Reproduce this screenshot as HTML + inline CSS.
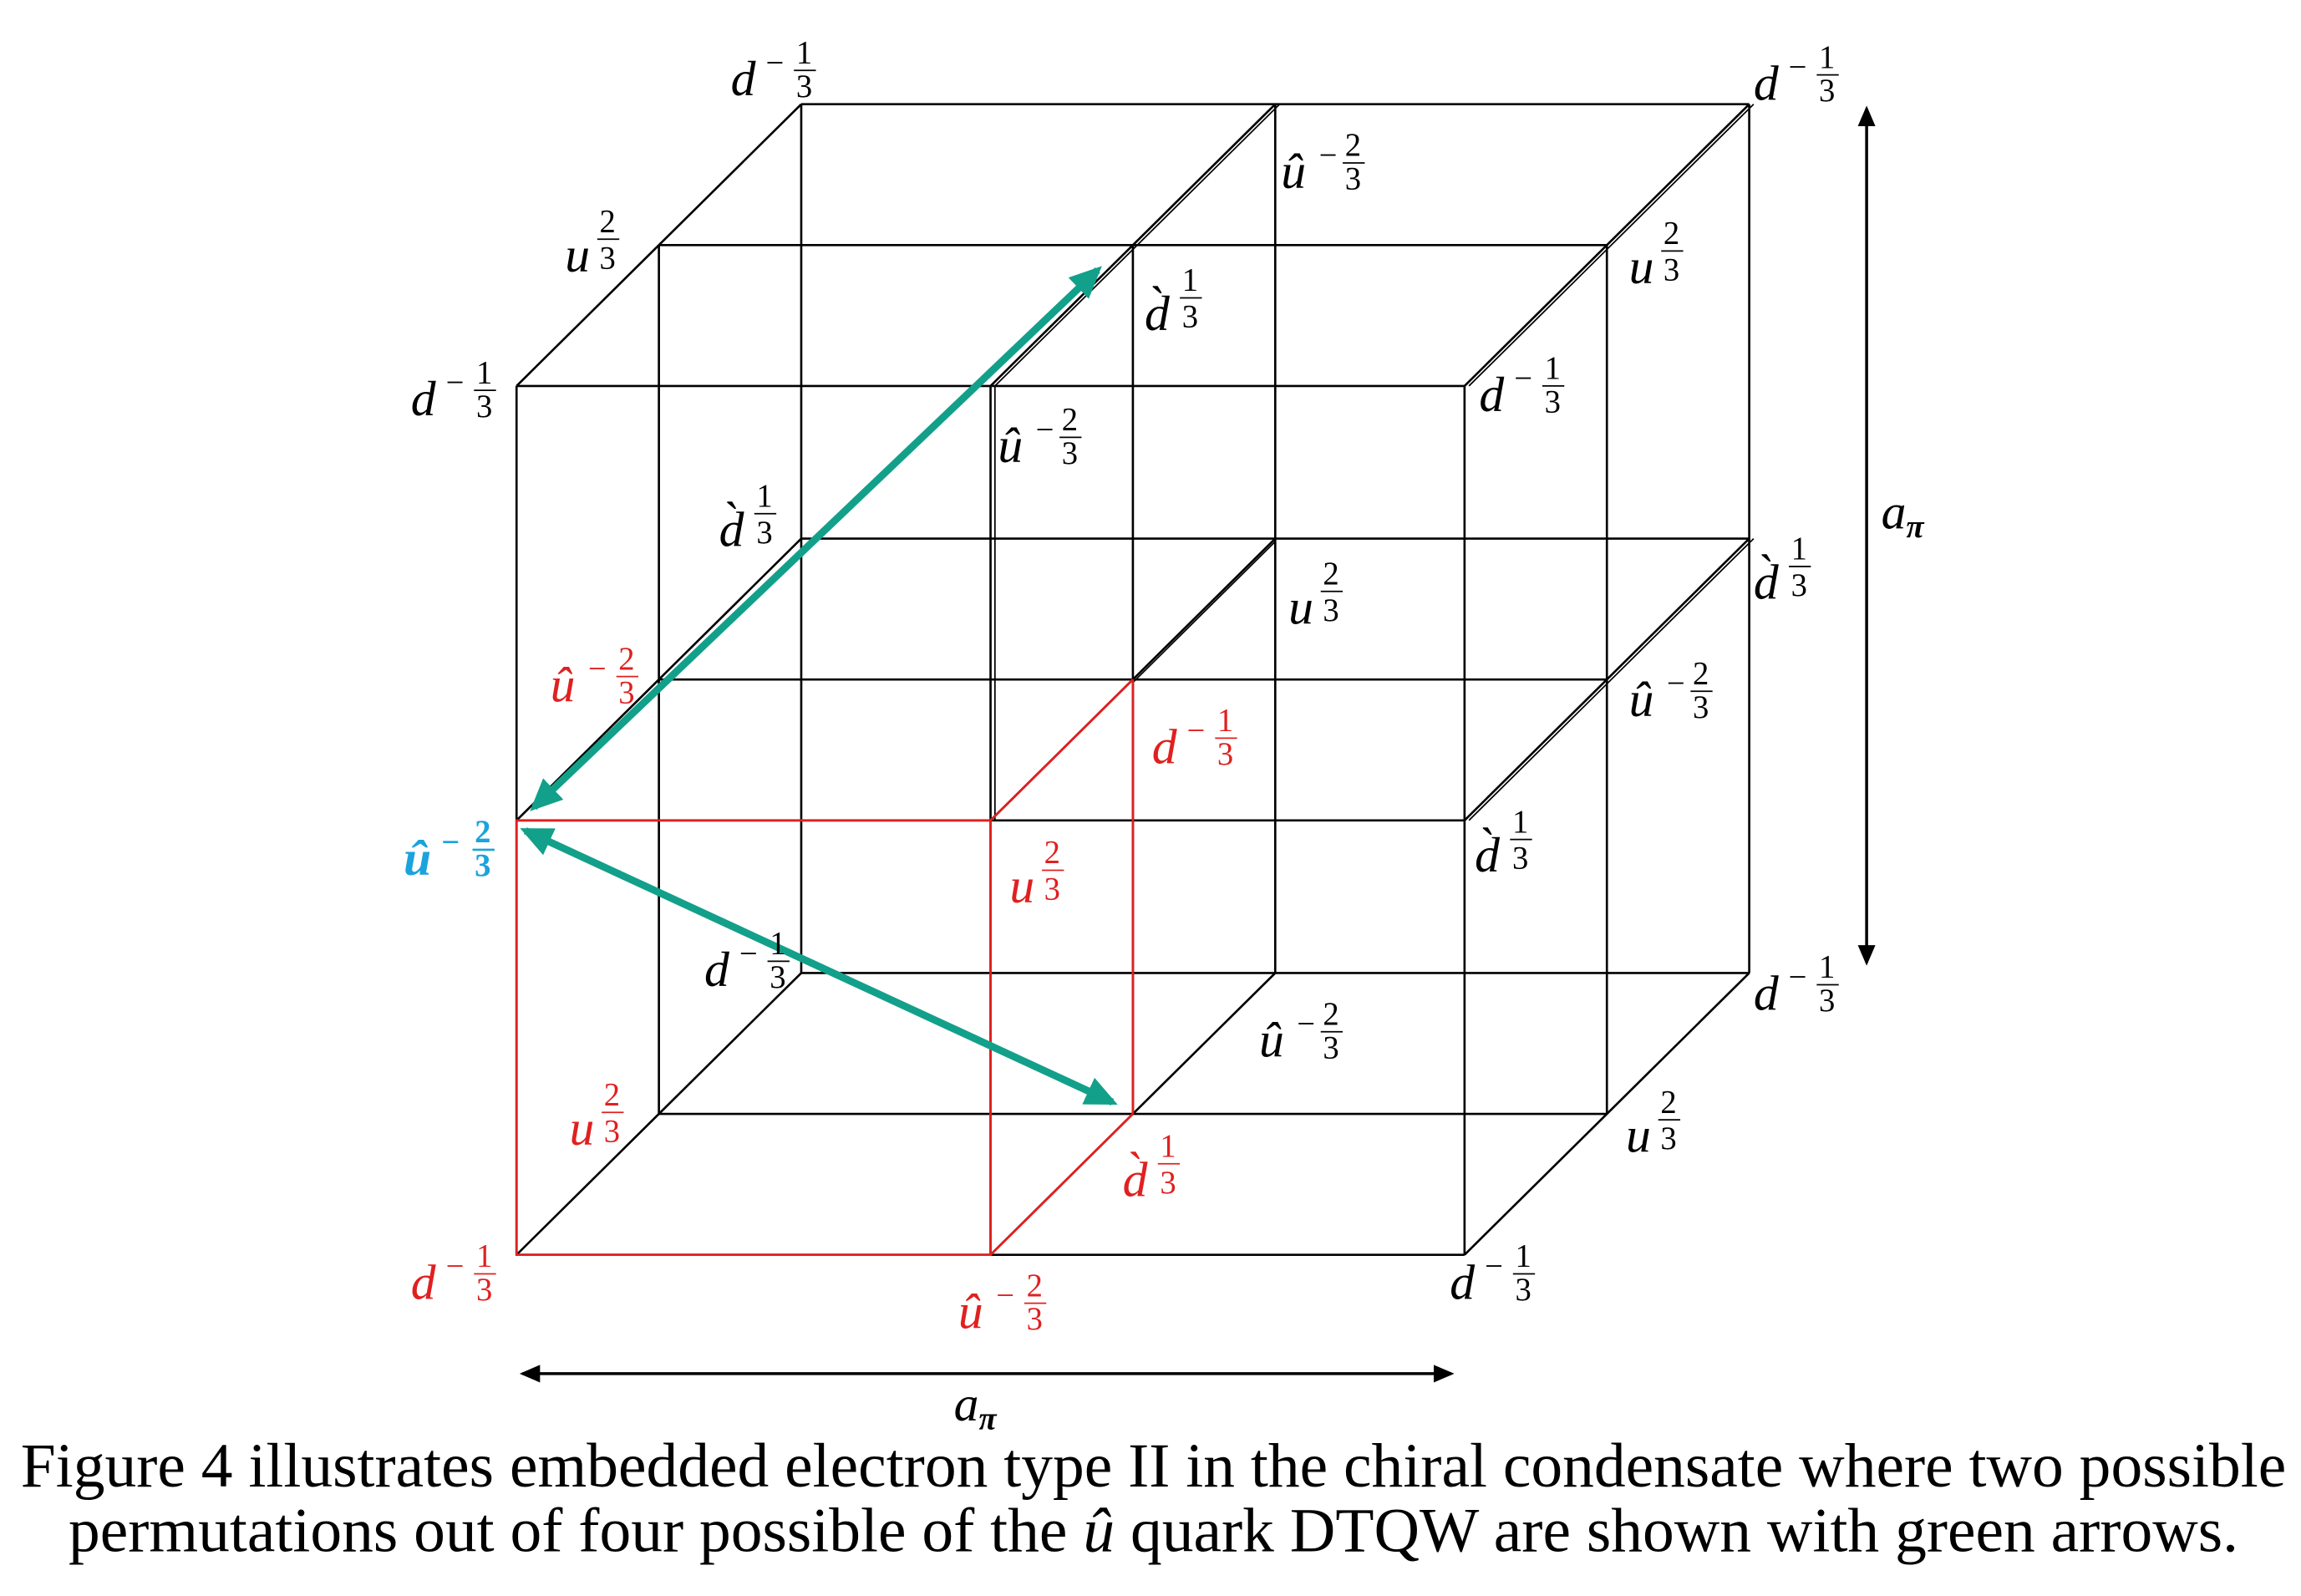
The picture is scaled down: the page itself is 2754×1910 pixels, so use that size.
<!DOCTYPE html>
<html><head><meta charset="utf-8"><style>
html,body{margin:0;padding:0;background:#fff;}
svg{display:block;}
.l{font-family:"Liberation Serif",serif;font-style:italic;font-size:34px;}
.f{font-family:"Liberation Serif",serif;font-size:22px;text-anchor:middle;}
.cap{font-family:"Liberation Serif",serif;font-size:43px;text-anchor:middle;}
</style></head><body>
<svg width="2754" height="1910" viewBox="0 0 1568 1087.5" preserveAspectRatio="none" xmlns="http://www.w3.org/2000/svg">
<defs>
<marker id="ag" markerWidth="4.4" markerHeight="4" refX="3.6" refY="2" orient="auto-start-reverse" markerUnits="strokeWidth"><path d="M0,0 L4.4,2 L0,4 z" fill="#13a08a"/></marker>
<marker id="ak" markerWidth="7" markerHeight="6" refX="6" refY="3" orient="auto-start-reverse" markerUnits="strokeWidth"><path d="M0,0 L7,3 L0,6 z" fill="#000"/></marker>
</defs>
<g stroke="#000" stroke-width="1.5" fill="none">
<path d="M352,263H998M352,559H998M352,855H998M352,263V855M675,263V855M998,263V855"/>
<path d="M449,167H1095M449,463H1095M449,759H1095M449,167V759M772,167V759M1095,167V759"/>
<path d="M546,71H1192M546,367H1192M546,663H1192M546,71V663M869,71V663M1192,71V663"/>
<path d="M352,263L546,71M675,263L869,71M998,263L1192,71
M352,559L546,367M675,559L869,367M998,559L1192,367
M352,855L546,663M675,855L772,759M772,759L869,663M998,855L1192,663
M675,559L772,463M772,463L869,367"/>
<path d="M678,263L872,71M678,263V559M1001,263L1195,71M1001,559L1195,367M772,465L869,369" stroke-width="1"/>
</g>
<g stroke="#e02020" stroke-width="1.6" fill="none">
<path d="M352,559H675V855H352Z"/>
<path d="M675,855L772,759M675,559L772,463M772,463V759"/>
</g>
<g stroke="#13a08a" stroke-width="5" fill="none">
<line x1="748" y1="184" x2="364" y2="550" marker-start="url(#ag)" marker-end="url(#ag)"/>
<line x1="358" y1="566" x2="758" y2="751" marker-start="url(#ag)" marker-end="url(#ag)"/>
</g>
<g stroke="#000" stroke-width="2">
<line x1="1272" y1="74" x2="1272" y2="656" marker-start="url(#ak)" marker-end="url(#ak)"/>
<line x1="356" y1="936" x2="989" y2="936" marker-start="url(#ak)" marker-end="url(#ak)"/>
</g>
<text class="l" x="1282" y="360">a<tspan font-size="22" dy="6" font-weight="bold">π</tspan></text>
<text class="l" x="650" y="968">a<tspan font-size="22" dy="6" font-weight="bold">π</tspan></text>

<g fill="#000">
<text class="l" x="498" y="65">d</text><text class="f" x="528" y="50">−</text><text class="f" x="548" y="43">1</text><text class="f" x="548" y="66">3</text><line x1="541" y1="48" x2="556" y2="48" stroke="#000"/>
<text class="l" x="1195" y="68">d</text><text class="f" x="1225" y="53">−</text><text class="f" x="1245" y="46">1</text><text class="f" x="1245" y="69">3</text><line x1="1238" y1="51" x2="1253" y2="51" stroke="#000"/>
<text class="l" x="873" y="128">û</text><text class="f" x="905" y="113">−</text><text class="f" x="922" y="106">2</text><text class="f" x="922" y="129">3</text><line x1="915" y1="111" x2="930" y2="111" stroke="#000"/>
<text class="l" x="385" y="185">u</text><text class="f" x="414" y="158">2</text><text class="f" x="414" y="183">3</text><line x1="407" y1="163" x2="422" y2="163" stroke="#000"/>
<text class="l" x="1110" y="193">u</text><text class="f" x="1139" y="166">2</text><text class="f" x="1139" y="191">3</text><line x1="1132" y1="171" x2="1147" y2="171" stroke="#000"/>
<text class="l" x="780" y="225">d̀</text><text class="f" x="811" y="198">1</text><text class="f" x="811" y="223">3</text><line x1="804" y1="203" x2="819" y2="203" stroke="#000"/>
<text class="l" x="280" y="283">d</text><text class="f" x="310" y="268">−</text><text class="f" x="330" y="261">1</text><text class="f" x="330" y="284">3</text><line x1="323" y1="266" x2="338" y2="266" stroke="#000"/>
<text class="l" x="1008" y="280">d</text><text class="f" x="1038" y="265">−</text><text class="f" x="1058" y="258">1</text><text class="f" x="1058" y="281">3</text><line x1="1051" y1="263" x2="1066" y2="263" stroke="#000"/>
<text class="l" x="680" y="315">û</text><text class="f" x="712" y="300">−</text><text class="f" x="729" y="293">2</text><text class="f" x="729" y="316">3</text><line x1="722" y1="298" x2="737" y2="298" stroke="#000"/>
<text class="l" x="490" y="372">d̀</text><text class="f" x="521" y="345">1</text><text class="f" x="521" y="370">3</text><line x1="514" y1="350" x2="529" y2="350" stroke="#000"/>
<text class="l" x="878" y="425">u</text><text class="f" x="907" y="398">2</text><text class="f" x="907" y="423">3</text><line x1="900" y1="403" x2="915" y2="403" stroke="#000"/>
<text class="l" x="1195" y="408">d̀</text><text class="f" x="1226" y="381">1</text><text class="f" x="1226" y="406">3</text><line x1="1219" y1="386" x2="1234" y2="386" stroke="#000"/>
<text class="l" x="1110" y="488">û</text><text class="f" x="1142" y="473">−</text><text class="f" x="1159" y="466">2</text><text class="f" x="1159" y="489">3</text><line x1="1152" y1="471" x2="1167" y2="471" stroke="#000"/>
<text class="l" x="1005" y="594">d̀</text><text class="f" x="1036" y="567">1</text><text class="f" x="1036" y="592">3</text><line x1="1029" y1="572" x2="1044" y2="572" stroke="#000"/>
<text class="l" x="480" y="672">d</text><text class="f" x="510" y="657">−</text><text class="f" x="530" y="650">1</text><text class="f" x="530" y="673">3</text><line x1="523" y1="655" x2="538" y2="655" stroke="#000"/>
<text class="l" x="1195" y="688">d</text><text class="f" x="1225" y="673">−</text><text class="f" x="1245" y="666">1</text><text class="f" x="1245" y="689">3</text><line x1="1238" y1="671" x2="1253" y2="671" stroke="#000"/>
<text class="l" x="858" y="720">û</text><text class="f" x="890" y="705">−</text><text class="f" x="907" y="698">2</text><text class="f" x="907" y="721">3</text><line x1="900" y1="703" x2="915" y2="703" stroke="#000"/>
<text class="l" x="1108" y="785">u</text><text class="f" x="1137" y="758">2</text><text class="f" x="1137" y="783">3</text><line x1="1130" y1="763" x2="1145" y2="763" stroke="#000"/>
<text class="l" x="988" y="885">d</text><text class="f" x="1018" y="870">−</text><text class="f" x="1038" y="863">1</text><text class="f" x="1038" y="886">3</text><line x1="1031" y1="868" x2="1046" y2="868" stroke="#000"/>
</g>
<g fill="#e02020">
<text class="l" x="375" y="478">û</text><text class="f" x="407" y="463">−</text><text class="f" x="427" y="456">2</text><text class="f" x="427" y="479">3</text><line x1="420" y1="461" x2="435" y2="461" stroke="#e02020"/>
<text class="l" x="785" y="520">d</text><text class="f" x="815" y="505">−</text><text class="f" x="835" y="498">1</text><text class="f" x="835" y="521">3</text><line x1="828" y1="503" x2="843" y2="503" stroke="#e02020"/>
<text class="l" x="688" y="615">u</text><text class="f" x="717" y="588">2</text><text class="f" x="717" y="613">3</text><line x1="710" y1="593" x2="725" y2="593" stroke="#e02020"/>
<text class="l" x="388" y="780">u</text><text class="f" x="417" y="753">2</text><text class="f" x="417" y="778">3</text><line x1="410" y1="758" x2="425" y2="758" stroke="#e02020"/>
<text class="l" x="765" y="815">d̀</text><text class="f" x="796" y="788">1</text><text class="f" x="796" y="813">3</text><line x1="789" y1="793" x2="804" y2="793" stroke="#e02020"/>
<text class="l" x="280" y="885">d</text><text class="f" x="310" y="870">−</text><text class="f" x="330" y="863">1</text><text class="f" x="330" y="886">3</text><line x1="323" y1="868" x2="338" y2="868" stroke="#e02020"/>
<text class="l" x="653" y="905">û</text><text class="f" x="685" y="890">−</text><text class="f" x="705" y="883">2</text><text class="f" x="705" y="906">3</text><line x1="698" y1="888" x2="713" y2="888" stroke="#e02020"/>
</g>
<g fill="#1aa3dc" font-weight="bold">
<text class="l" x="275" y="596" font-weight="bold">û</text><text class="f" x="307" y="581" font-weight="bold">−</text><text class="f" x="329" y="574" font-weight="bold">2</text><text class="f" x="329" y="597" font-weight="bold">3</text><line x1="322" y1="579" x2="337" y2="579" stroke="#1aa3dc" stroke-width="1.5"/>
</g>
<text class="cap" x="786" y="1013">Figure 4 illustrates embedded electron type II in the chiral condensate where two possible</text>
<text class="cap" x="786" y="1057">permutations out of four possible of the <tspan font-style="italic">û</tspan> quark DTQW are shown with green arrows.</text>
</svg>
</body></html>
